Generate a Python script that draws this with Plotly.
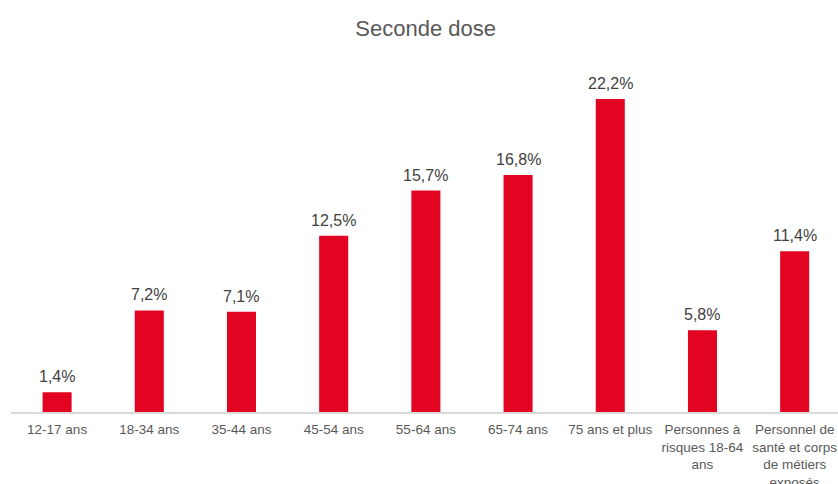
import plotly.graph_objects as go

categories = ["12-17 ans", "18-34 ans", "35-44 ans", "45-54 ans", "55-64 ans",
              "65-74 ans", "75 ans et plus", "Personnes à<br>risques 18-64<br>ans",
              "Personnel de<br>santé et corps<br>de métiers<br>exposés"]
values = [1.4, 7.2, 7.1, 12.5, 15.7, 16.8, 22.2, 5.8, 11.4]
labels = [f"{v:.1f}%".replace(".", ",") for v in values]
xpos = list(range(len(categories)))

fig = go.Figure(go.Bar(
    x=xpos, y=values,
    marker=dict(color="#E30421", line=dict(width=0)),
    width=0.315, hoverinfo="skip",
))
for xi, v, lab in zip(xpos, values, labels):
    fig.add_annotation(x=xi, y=v, text=lab, showarrow=False, yanchor="bottom",
                       yshift=5, font=dict(size=16, color="#404040"))

fig.update_layout(
    width=838, height=484,
    margin=dict(l=11, r=0, t=59, b=72),
    paper_bgcolor="white", plot_bgcolor="white",
    font=dict(family="Liberation Sans, Arial, sans-serif", color="#595959"),
    title=dict(text="Seconde dose", x=0.508, xanchor="center", y=0.942, yanchor="middle",
               font=dict(size=22, color="#595959")),
    showlegend=False,
    xaxis=dict(tickmode="array", tickvals=xpos, ticktext=categories,
               range=[-0.5, 8.47], showline=True, linecolor="#D9D9D9", linewidth=1.5,
               showgrid=False, ticks="", tickfont=dict(size=13.5, color="#595959"),
               automargin=False, tickangle=0, ticklabelstandoff=4),
    yaxis=dict(range=[0, 25.03], visible=False, showgrid=False, zeroline=False),
)
fig.write_html("out.html", config={"displayModeBar": False},
               post_script="document.body.style.margin='0';document.body.style.overflow='hidden';")
